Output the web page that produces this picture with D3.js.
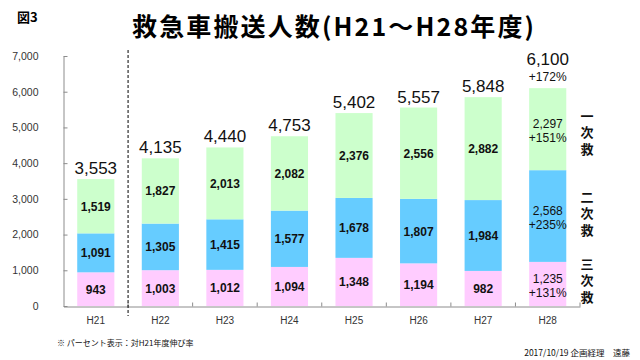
<!DOCTYPE html>
<html><head><meta charset="utf-8">
<script src="https://cdn.jsdelivr.net/npm/d3@7"></script>
<style>
html,body{margin:0;padding:0;background:#fff;}
svg{display:block;}
text{font-family:"Liberation Sans",Arial,sans-serif;}
.jp{font-family:"Noto Sans CJK JP","Noto Sans CJK SC",sans-serif;}
.vert{writing-mode:vertical-rl;}
</style></head><body>
<svg id="c" width="640" height="360"></svg>
<script>
const categories = ["H21","H22","H23","H24","H25","H26","H27","H28"];
const tertiary  = [943,1003,1012,1094,1348,1194,982,1235];     // 三次救
const secondary = [1091,1305,1415,1577,1678,1807,1984,2568];   // 二次救
const primary   = [1519,1827,2013,2082,2376,2556,2882,2297];   // 一次救
const totals    = [3553,4135,4440,4753,5402,5557,5848,6100];
const growthTotal = "+172%";
const growthSeries = ["+131%","+235%","+151%"]; // tertiary, secondary, primary for H28
const yTicks = [0,1000,2000,3000,4000,5000,6000,7000];
const seriesNames = ["三次救","二次救","一次救"];
const seriesColors = ["#FFCCFF","#66CCFF","#CCFFCC"];

const svg = d3.select("#c");
const x = d3.scaleBand().domain(categories).range([63.5,580]).padding(0);
const y = d3.scaleLinear().domain([0,7000]).range([306,56]);
const barW = x.bandwidth()*0.575;
const fmt = d3.format(",");

const rows = categories.map((c,i)=>({cat:c, i, v:[tertiary[i],secondary[i],primary[i]]}));
const stack = d3.stack().keys([0,1,2]).value((d,k)=>d.v[k]);
const layers = stack(rows);

// title
svg.append("text").attr("class","jp").attr("x",17).attr("y",22)
  .attr("font-size",13).attr("font-weight","bold").text("図3");
svg.append("text").attr("class","jp").attr("x",132).attr("y",36)
  .attr("font-size",25).attr("font-weight","bold")
  .attr("textLength",402).attr("lengthAdjust","spacing")
  .text("救急車搬送人数(H21～H28年度)");

// bars
layers.forEach((layer,k)=>{
  svg.append("g").selectAll("rect").data(layer).join("rect")
    .attr("x",d=>x(d.data.cat)+x.bandwidth()/2-barW/2)
    .attr("width",barW)
    .attr("y",d=>y(d[1]))
    .attr("height",d=>y(d[0])-y(d[1]))
    .attr("fill",seriesColors[k]);
  const g = svg.append("g");
  layer.forEach(d=>{
    const cx = x(d.data.cat)+x.bandwidth()/2;
    const cy = (y(d[0])+y(d[1]))/2;
    const val = d.data.v[k];
    if(d.data.i===categories.length-1){
      g.append("text").attr("x",cx).attr("y",cy-1).attr("text-anchor","middle")
        .attr("font-size",12).attr("fill","#111").text(fmt(val));
      g.append("text").attr("x",cx).attr("y",cy+13).attr("text-anchor","middle")
        .attr("font-size",12).attr("fill","#111").text(growthSeries[k]);
    } else {
      g.append("text").attr("x",cx).attr("y",cy+4.5).attr("text-anchor","middle")
        .attr("font-size",12).attr("font-weight","bold").attr("fill","#111").text(fmt(val));
    }
  });
});

// totals
rows.forEach(d=>{
  const cx = x(d.cat)+x.bandwidth()/2;
  if(d.i===categories.length-1){
    svg.append("text").attr("x",cx).attr("y",y(totals[d.i])-23).attr("text-anchor","middle")
      .attr("font-size",17).attr("fill","#111").text(fmt(totals[d.i]));
    svg.append("text").attr("x",cx).attr("y",y(totals[d.i])-7).attr("text-anchor","middle")
      .attr("font-size",12).attr("fill","#111").text(growthTotal);
  } else {
    svg.append("text").attr("x",cx).attr("y",y(totals[d.i])-5).attr("text-anchor","middle")
      .attr("font-size",17).attr("fill","#111").text(fmt(totals[d.i]));
  }
});

// y axis
const yAxis = d3.axisLeft(y).tickValues(yTicks).tickFormat(fmt).tickSizeInner(-4).tickSizeOuter(0).tickPadding(25);
const yg = svg.append("g").attr("transform","translate(63.5,0)").call(yAxis);
yg.selectAll("text").attr("font-size",10.5).attr("fill","#333").attr("font-family","Liberation Sans, Arial, sans-serif");
yg.selectAll("line,path").attr("stroke","#8c8c8c");

// x axis
const xAxis = d3.axisBottom(x).tickSize(0).tickPadding(10);
const xg = svg.append("g").attr("transform","translate(0,306.5)").call(xAxis);
xg.selectAll("text").attr("font-size",10).attr("fill","#333").attr("font-family","Liberation Sans, Arial, sans-serif");
xg.select("path").attr("stroke","#8c8c8c");
xg.selectAll(".sep").data(categories).join("line").attr("class","sep")
  .attr("x1",d=>x(d)+x.step()).attr("x2",d=>x(d)+x.step())
  .attr("y1",0).attr("y2",-4).attr("stroke","#8c8c8c");

// dashed separator
svg.append("line").attr("x1",x("H22")).attr("x2",x("H22"))
  .attr("y1",50).attr("y2",316).attr("stroke","#000").attr("stroke-dasharray","3,2");

// legend (vertical text beside last bar)
const legX = x("H28")+x.step()+7;
const legOff = [-4,-3,3];
const legY = [ (y(0)+y(tertiary[7]))/2, (y(tertiary[7])+y(tertiary[7]+secondary[7]))/2, (y(totals[7]-primary[7])+y(totals[7]))/2 ];
seriesNames.forEach((name,k)=>{
  svg.append("text").attr("class","jp vert").attr("x",legX).attr("y",legY[k]+legOff[k]+2)
    .attr("text-anchor","middle").attr("font-size",13).attr("font-weight","bold")
    .attr("letter-spacing",3.5).attr("fill","#111").text(name);
});

// footnotes
svg.append("text").attr("class","jp").attr("x",57).attr("y",346).attr("font-size",8).attr("fill","#111")
  .text("※ パーセント表示：対H21年度伸び率");
svg.append("text").attr("class","jp").attr("x",630).attr("y",356).attr("text-anchor","end").attr("font-size",8.5).attr("fill","#111")
  .text("2017/10/19 企画経理　遠藤");
</script></body></html>
